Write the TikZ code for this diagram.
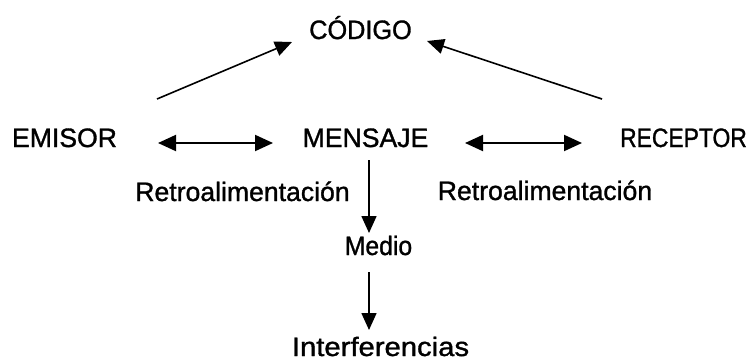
\documentclass[tikz,border=0pt]{standalone}
\usepackage{fontspec}
\setmainfont{Liberation Sans}
\usetikzlibrary{arrows.meta}
\newcommand{\hsc}[2]{\scalebox{#1}[1]{#2}}
\begin{document}
\begin{tikzpicture}[x=1pt,y=-1pt,
  lbl/.style={inner sep=0pt,anchor=base,font=\fontsize{26.6}{30}\selectfont\addfontfeature{FakeBold=1.2}},
  conn/.style={line width=1.6pt,-{Triangle[length=17pt,width=15pt]}},
  dbl/.style={line width=2pt,{Triangle[length=18pt,width=16pt]}-{Triangle[length=18pt,width=16pt]}}]
\useasboundingbox (0,0) rectangle (750,362);
\fill[white] (0,0) rectangle (750,362);
% texts
\node[lbl] (codigo) at (360.5,39) {\hsc{0.95}{CÓDIGO}};
\node[lbl] (emisor) at (64.5,147) {EMISOR};
\node[lbl] (mensaje) at (365.5,147) {MENSAJE};
\node[lbl] (receptor) at (683.5,147) {\hsc{0.86}{RECEPTOR}};
\node[lbl] (retroL) at (242.5,201) {Retroalimentación};
\node[lbl] (retroR) at (545,200) {Retroalimentación};
\node[lbl] (medio) at (378.5,255) {\hsc{0.93}{Medio}};
\node[lbl] (interf) at (380.5,356) {\hsc{1.1}{Interferencias}};
% connector end points
\coordinate (eTail) at (157,99);
\coordinate (eHead) at (292,42);
\coordinate (rTail) at (602,99);
\coordinate (rHead) at (427,41);
\coordinate (d1a) at (158,143);
\coordinate (d1b) at (273,143);
\coordinate (d2a) at (465,143);
\coordinate (d2b) at (582,143);
\coordinate (v1a) at (369,160);
\coordinate (v1b) at (369,233);
\coordinate (v2a) at (369,272);
\coordinate (v2b) at (369,330);
% connectors
\draw[conn] (eTail) -- (eHead);
\draw[conn] (rTail) -- (rHead);
\draw[dbl] (d1a) -- (d1b);
\draw[dbl] (d2a) -- (d2b);
\draw[conn] (v1a) -- (v1b);
\draw[conn] (v2a) -- (v2b);
\end{tikzpicture}
\end{document}
